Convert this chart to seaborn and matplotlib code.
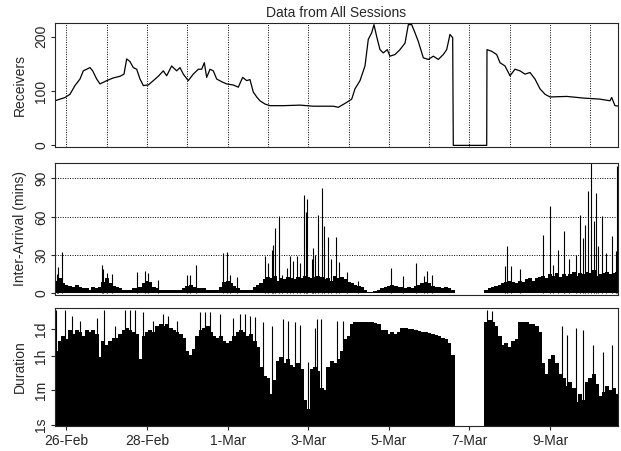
import numpy as np
import pandas as pd
import matplotlib
matplotlib.use("Agg")
import matplotlib.pyplot as plt
import matplotlib.dates as mdates
import seaborn as sns

# --- data (times are days after 26-Feb 00:00) ---
BASE = pd.Timestamp("2000-02-26")

recv_day = [-0.285, -0.037, 0.087, 0.211, 0.335, 0.417, 0.583, 0.650, 0.749, 0.831,
            0.998, 1.161, 1.328, 1.427, 1.494, 1.576, 1.658, 1.742, 1.824, 1.906,
            2.030, 2.154, 2.278, 2.402, 2.486, 2.610, 2.734, 2.816, 2.898, 3.022,
            3.146, 3.271, 3.355, 3.420, 3.479, 3.561, 3.643, 3.727, 3.851, 3.975,
            4.139, 4.263, 4.372, 4.471, 4.553, 4.635, 4.720, 4.801, 4.926, 5.050,
            5.380, 5.794, 6.124, 6.208, 6.620, 6.745, 6.953, 7.077, 7.159, 7.283,
            7.407, 7.489, 7.573, 7.630, 7.697, 7.779, 7.861, 7.960, 8.027, 8.151,
            8.275, 8.400, 8.482, 8.566, 8.648, 8.730, 8.854, 8.978, 9.102, 9.226,
            9.350, 9.434, 9.516, 9.583, 9.598, 10.427, 10.434, 10.551, 10.675, 10.757,
            10.881, 11.005, 11.129, 11.253, 11.377, 11.501, 11.625, 11.749, 11.873, 11.998,
            12.412, 12.824, 13.238, 13.486, 13.528, 13.610, 13.710]
recv_count = [82, 88, 94, 110, 122, 137, 143, 137, 122, 113,
              119, 124, 127, 131, 159, 154, 143, 140, 122, 110,
              111, 119, 127, 137, 128, 146, 137, 143, 131, 119,
              131, 140, 140, 152, 125, 140, 137, 122, 117, 113,
              111, 107, 125, 119, 121, 98, 89, 82, 76, 73,
              73, 74, 72, 72, 72, 70, 79, 85, 104, 119,
              146, 195, 207, 222, 200, 176, 170, 176, 164, 167,
              176, 188, 222, 222, 207, 191, 161, 158, 164, 158,
              167, 176, 204, 198, 0, 0, 176, 173, 167, 152,
              146, 128, 140, 137, 131, 134, 122, 104, 94, 89,
              90, 87, 85, 82, 88, 73, 72]

# two-hourly bins from 25-Feb 18:00 (168 bins)
BIN_START = "2000-02-25 18:00"
# typical inter-arrival level per bin (mins)
ia_bin_min = [10, 12, 8, 7, 6, 5, 7, 5, 4, 4,
              3, 5, 4, 5, 9, 12, 8, 6, 5, 4,
              3, 3, 3, 4, 4, 5, 8, 10, 9, 5,
              4, 3, 3, 2.5, 3, 3, 2.5, 3, 4, 6,
              7, 5, 4, 4, 4, 3, 3, 3, 3, 5,
              9, 10, 8, 6, 4, 3, 2.5, 2.5, 3, 5,
              7, 8, 11, 13, 12, 14, 10, 12, 11, 13,
              12, 11, 13, 12, 14, 13, 12, 13, 14, 13,
              11, 12, 10, 14, 12, 13, 11, 9, 8, 7,
              6, 5, 2.5, 1.5, 1.5, 2, 3, 4, 5, 6,
              7, 6, 5, 5, 4, 5, 4, 6, 7, 8,
              9, 8, 6, 5, 5, 4, 5, 4, 3, 0,
              0, 0, 0, 0, 0, 0, 0, 0, 3, 4,
              5, 6, 7, 8, 9, 10, 9, 8, 10, 9,
              11, 12, 10, 12, 13, 14, 12, 15, 14, 16,
              13, 15, 14, 15, 17, 14, 16, 15, 17, 16,
              18, 14, 15, 16, 17, 15, 16, 17]
# typical session duration per bin (log10 seconds)
dur_bin_log10 = [3.8, 4.3, 4.6, 4.4, 4.9, 4.7, 4.9, 4.8, 4.6, 4.9,
                 4.8, 4.9, 4.7, 3.5, 4.3, 4.1, 4.3, 4.5, 4.5, 4.7,
                 4.9, 5.0, 4.9, 4.8, 4.7, 3.4, 4.6, 4.8, 4.9, 4.8,
                 5.1, 5.2, 5.1, 5.2, 5.0, 4.9, 4.8, 4.7, 4.5, 3.8,
                 3.6, 3.9, 4.6, 4.9, 5.0, 5.1, 4.8, 4.6, 4.5, 4.6,
                 4.3, 4.2, 4.3, 4.6, 4.8, 4.9, 4.8, 4.6, 4.7, 4.3,
                 4.0, 3.0, 2.5, 2.4, 1.6, 2.3, 3.3, 3.5, 3.2, 3.4,
                 3.1, 3.0, 3.2, 2.9, 1.3, 0.8, 2.9, 3.0, 2.8, 1.9,
                 1.8, 3.0, 3.3, 3.2, 3.4, 3.8, 4.4, 4.6, 5.2, 5.3,
                 5.3, 5.3, 5.3, 5.3, 5.3, 5.25, 5.2, 4.9, 4.9, 4.7,
                 4.8, 4.7, 4.8, 5.0, 5.0, 4.95, 4.95, 4.9, 4.85, 4.8,
                 4.8, 4.75, 4.7, 4.65, 4.6, 4.5, 4.4, 4.2, 3.6, -1,
                 -1, -1, -1, -1, -1, -1, -1, -1, 5.3, 5.4,
                 5.3, 5.1, 4.6, 4.1, 4.2, 4.0, 4.3, 4.4, 5.3, 5.3,
                 5.3, 5.2, 5.2, 5.1, 4.8, 3.2, 2.6, 3.4, 3.6, 3.2,
                 2.6, 2.4, 2.0, 2.2, 1.9, 1.2, 1.6, 1.3, 2.2, 2.4,
                 2.6, 2.1, 1.5, 1.7, 2.0, 1.8, 1.9, 1.6]

# individual long gaps between sessions (mins)
ia_spike_day = [-0.243, -0.203, -0.119, 0.873, 0.913, 0.998, 1.122, 1.742, 1.948, 2.030,
                2.278, 2.983, 3.065, 3.213, 3.891, 3.975, 4.057, 4.223, 4.926, 5.007,
                5.092, 5.117, 5.174, 5.280, 5.340, 5.464, 5.546, 5.628, 5.712, 5.794,
                5.893, 5.943, 5.975, 6.084, 6.124, 6.166, 6.248, 6.333, 6.390, 6.496,
                6.556, 6.680, 6.769, 6.953, 7.241, 8.045, 8.343, 8.672, 8.871, 8.953,
                9.062, 10.881, 10.923, 11.022, 11.253, 11.831, 11.998, 12.079, 12.203, 12.345,
                12.476, 12.643, 12.742, 12.809, 12.866, 12.948, 13.007, 13.089, 13.139, 13.196,
                13.288, 13.387, 13.529, 13.635, 13.653]
ia_spike_min = [15.6, 21, 32.3, 22.6, 18.8, 16, 15, 16.7, 17.4, 16,
                10.4, 14.8, 14.8, 22.6, 31.8, 32.6, 14.8, 13, 29.7, 24,
                34.4, 38.3, 51.3, 60.4, 14.8, 20, 29.2, 25.3, 29.7, 24,
                77.3, 63.5, 74, 26.6, 35.7, 30.5, 61.7, 82.6, 52.6, 44.3,
                26.6, 44.3, 24.5, 16.7, 9.6, 20, 13.5, 24, 13.5, 17.4,
                14.8, 21.4, 37, 21.4, 19.3, 46, 68.2, 22.6, 34.4, 49.2,
                26.6, 30.5, 61.7, 43.5, 53.9, 80, 120, 56.5, 78.6, 37,
                60.4, 31.8, 44.8, 33, 99.5]

# individual long sessions (seconds)
dur_spike_day = [-0.261, -0.037, 0.129, 0.335, 0.749, 0.931, 1.203, 1.452, 1.576, 1.700,
                 1.906, 2.154, 2.402, 2.526, 2.734, 3.313, 3.437, 3.561, 3.809, 4.139,
                 4.305, 4.429, 4.553, 4.677, 4.883, 5.092, 5.380, 5.504, 5.670, 5.794,
                 6.000, 6.166, 6.208, 6.307, 6.705, 6.854, 10.427, 10.551, 11.253, 12.288,
                 12.412, 12.643, 12.824, 13.072, 13.320, 13.529]
dur_spike_sec = [794000, 794000, 398000, 224000, 316000, 794000, 126000, 794000, 794000, 794000,
                 631000, 224000, 501000, 398000, 224000, 631000, 631000, 631000, 501000, 316000,
                 501000, 501000, 398000, 355000, 200000, 126000, 282000, 224000, 200000, 141000,
                 1800, 93000, 282000, 282000, 224000, 224000, 794000, 708000, 200000, 126000,
                 43000, 93000, 76000, 13000, 5900, 13000]

tick_dates = ["2000-02-26", "2000-02-28", "2000-03-01", "2000-03-03",
              "2000-03-05", "2000-03-07", "2000-03-09"]
dur_ticks = [1, 60, 3600, 86400]
dur_tick_labels = ["1s", "1m", "1h", "1d"]


def to_time(days):
    return (BASE + pd.to_timedelta(np.asarray(days), unit="D")).values


bins = pd.date_range(BIN_START, periods=len(ia_bin_min), freq="2h").values

sns.set_style("ticks")
plt.rcParams["font.family"] = ["Liberation Sans", "DejaVu Sans"]
plt.rcParams["font.size"] = 10
plt.rcParams["axes.linewidth"] = 0.8

fig = plt.figure(figsize=(6.21, 4.51), dpi=100)
L, W = 55 / 621, 563 / 621
ax1 = fig.add_axes([L, 1 - 147 / 451, W, 124 / 451])
ax2 = fig.add_axes([L, 1 - 294.5 / 451, W, 132 / 451])
ax3 = fig.add_axes([L, 1 - 426 / 451, W, 118 / 451])

xlim = to_time([-0.285, 13.685])
bin_lw = 2.6

# receivers
recv = pd.DataFrame({"time": to_time(recv_day), "receivers": recv_count})
sns.lineplot(data=recv, x="time", y="receivers", ax=ax1, color="black",
             linewidth=0.9, estimator=None, sort=False)
for d in range(14):
    ax1.axvline(to_time([d])[0], color="black", linestyle=(0, (1, 1.5)), linewidth=0.7)
ax1.set_ylim(-3, 225)
ax1.set_yticks([0, 100, 200])
ax1.set_ylabel("Receivers")
ax1.set_title("Data from All Sessions", fontsize=10, pad=4)

# inter-arrival
ax2.vlines(bins, 0, ia_bin_min, color="black", linewidth=bin_lw, antialiased=False)
ax2.vlines(to_time(ia_spike_day), 0, ia_spike_min, color="black", linewidth=0.8)
for h in [30, 60, 90]:
    ax2.axhline(h, color="black", linestyle=(0, (1, 1.5)), linewidth=0.7)
ax2.set_ylim(-0.8, 102.5)
ax2.set_yticks([0, 30, 60, 90])
ax2.set_ylabel("Inter-Arrival (mins)")

# duration
ax3.set_yscale("log")
ax3.vlines(bins, 0.5, 10 ** np.array(dur_bin_log10), color="black", linewidth=bin_lw,
           antialiased=False)
ax3.vlines(to_time(dur_spike_day), 0.5, dur_spike_sec, color="black", linewidth=0.8)
ax3.set_ylim(0.89, 1.04e6)
ax3.set_yticks(dur_ticks)
ax3.set_yticklabels(dur_tick_labels)
ax3.yaxis.set_minor_locator(matplotlib.ticker.NullLocator())
ax3.set_ylabel("Duration")

for ax in (ax1, ax2, ax3):
    ax.set_xlim(xlim)
    ax.set_xlabel("")
    ax.tick_params(axis="both", length=3, width=0.8, pad=2, labelsize=10)
    ax.tick_params(axis="y", labelrotation=90)
    for lbl in ax.get_yticklabels():
        lbl.set_va("center")
    ax.yaxis.set_label_coords(-0.05, 0.5)
    for s in ax.spines.values():
        s.set_linewidth(0.8)

for ax in (ax1, ax2):
    ax.set_xticks([])

ax3.set_xticks(pd.to_datetime(tick_dates))
ax3.xaxis.set_major_formatter(mdates.DateFormatter("%-d-%b"))
ax3.tick_params(axis="x", pad=3)

fig.savefig("out.png", dpi=100)
